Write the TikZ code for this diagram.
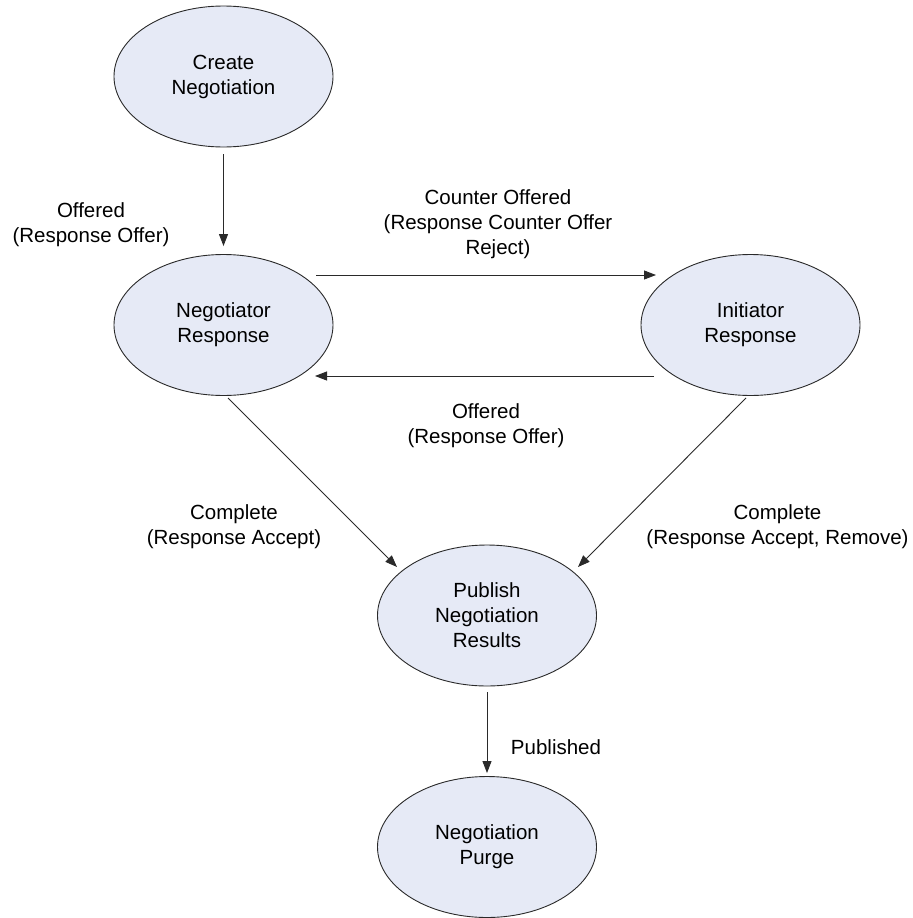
\documentclass[tikz,border=0pt]{standalone}
\usepackage{fontspec}
\setmainfont{Liberation Sans}
\usetikzlibrary{arrows.meta,shapes.geometric}
\definecolor{statefill}{HTML}{E6EAF6}
\definecolor{lineclr}{HTML}{2A2A2A}
\begin{document}
\begin{tikzpicture}[x=1bp,y=-1bp,
  state/.style={ellipse,draw=lineclr,line width=0.9bp,fill=statefill,minimum width=219bp,minimum height=141bp,inner sep=0pt,align=center,font=\fontsize{20.5bp}{25bp}\selectfont},
  lbl/.style={align=center,font=\fontsize{20.5bp}{25bp}\selectfont,inner sep=0pt},
  conn/.style={draw=lineclr,line width=0.9bp,-{Triangle[length=12bp,width=9bp]}}]
\useasboundingbox (0,0) rectangle (913,918);
\node[state] (create) at (223.5,76.5) {Create\\Negotiation};
\node[state] (negr) at (223.5,325) {Negotiator\\Response};
\node[state] (initr) at (750.5,325) {Initiator\\Response};
\node[state] (pub) at (487,615.5) {Publish\\Negotiation\\Results};
\node[state] (purge) at (487,847) {Negotiation\\Purge};
\coordinate (h1s) at (316,275);
\coordinate (h1e) at (656,275);
\coordinate (h2s) at (654,376);
\coordinate (h2e) at (315,376);
\coordinate (d1s) at (228,398);
\coordinate (d1e) at (397,567);
\coordinate (d2s) at (746,398);
\coordinate (d2e) at (578,567);
\draw[conn,shorten <=7bp,shorten >=8bp] (create) -- (negr);
\draw[conn] (h1s) -- (h1e);
\draw[conn] (h2s) -- (h2e);
\draw[conn] (d1s) -- (d1e);
\draw[conn] (d2s) -- (d2e);
\draw[conn,shorten <=6bp,shorten >=3bp] (pub) -- (purge);
\node[lbl] (l1) at (91,225) {Offered\\(Response Offer)};
\node[lbl] (l2) at (498,224.5) {Counter Offered\\(Response Counter Offer\\Reject)};
\node[lbl] (l3) at (486,426) {Offered\\(Response Offer)};
\node[lbl] (l4) at (234,526.5) {Complete\\(Response Accept)};
\node[lbl] (l5) at (777.5,526.5) {Complete\\(Response Accept, Remove)};
\node[lbl] (l6) at (556,747) {Published};
\end{tikzpicture}
\end{document}
